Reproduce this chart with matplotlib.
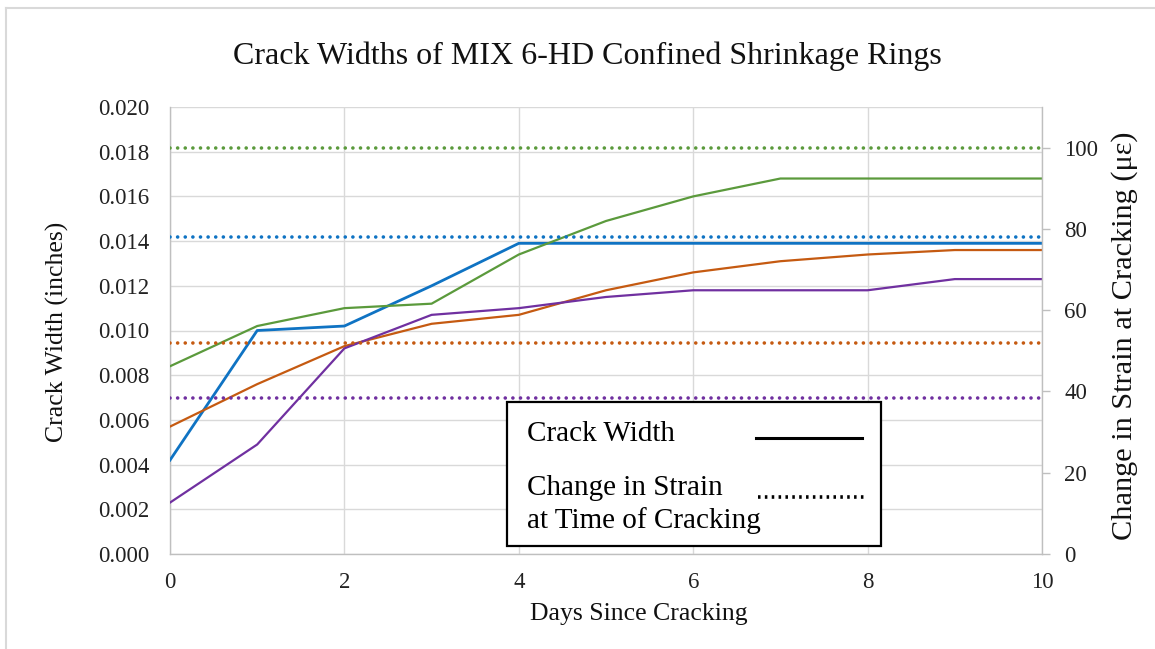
import matplotlib
matplotlib.use("Agg")
import matplotlib.pyplot as plt
from matplotlib.lines import Line2D
from matplotlib.patches import Rectangle

plt.rcParams['font.family'] = ['Liberation Serif', 'DejaVu Serif']

# ---- data ----
days = [0, 1, 2, 3, 4, 5, 6, 7, 8, 9, 10]
width_blue = [0.0042, 0.0100, 0.0102, 0.0120, 0.0139, 0.0139, 0.0139, 0.0139, 0.0139, 0.0139, 0.0139]
width_green = [0.0084, 0.0102, 0.0110, 0.0112, 0.0134, 0.0149, 0.0160, 0.0168, 0.0168, 0.0168, 0.0168]
width_orange = [0.0057, 0.0076, 0.0093, 0.0103, 0.0107, 0.0118, 0.0126, 0.0131, 0.0134, 0.0136, 0.0136]
width_purple = [0.0023, 0.0049, 0.0092, 0.0107, 0.0110, 0.0115, 0.0118, 0.0118, 0.0118, 0.0123, 0.0123]
strain_values = [100, 78, 52, 38.5]  # green, blue, orange, purple
colors = ['#5B9A3C', '#0F73C3', '#C55A11', '#7030A0']
x_ticks = [0, 2, 4, 6, 8, 10]
y_ticks = [0.000, 0.002, 0.004, 0.006, 0.008, 0.010, 0.012, 0.014, 0.016, 0.018, 0.020]
y2_ticks = [0, 20, 40, 60, 80, 100]

W, H = 1155, 649
fig = plt.figure(figsize=(W / 100, H / 100), dpi=100)
ax = fig.add_axes([170 / W, 1 - 554 / H, (1042 - 170) / W, (554 - 107) / H])
ax2 = ax.twinx()

grid_c = '#D9D9D9'
# primary series
series = [width_green, width_blue, width_orange, width_purple]
lws = [1.6, 2.0, 1.6, 1.6]
order = [1, 0, 2, 3]
for i in order:
    ax.plot(days, series[i], color=colors[i], lw=lws[i], zorder=3, solid_joinstyle='round')

ax.set_xlim(0, 10)
ax.set_ylim(0, 0.020)
ax.set_xticks(x_ticks)
ax.set_yticks(y_ticks)
ax.set_yticklabels([f"{v:.3f}" for v in y_ticks])
ax.grid(True, color=grid_c, lw=1.0, zorder=0)
ax.set_axisbelow(True)
ax.tick_params(axis='both', length=0, labelsize=16.5, colors='#222222')
ax.tick_params(axis='x', pad=13)
ax.tick_params(axis='y', pad=15)
for s in ['top', 'right']:
    ax.spines[s].set_visible(False)
for s in ['left', 'bottom']:
    ax.spines[s].set_color('#BFBFBF')
    ax.spines[s].set_linewidth(1.0)

# secondary series (dotted)
for val, c in zip(strain_values, colors):
    ax2.plot([days[0], days[-1]], [val, val], color=c, lw=2.6,
             linestyle=(0, (0.01, 2.1)), dash_capstyle='round', zorder=4)
ax2.set_ylim(0, 110)
ax2.set_yticks(y2_ticks)
ax2.tick_params(axis='y', length=6, width=1, color='#BFBFBF', labelsize=16.5,
                labelcolor='#222222', pad=10)
for s in ['top', 'left', 'bottom']:
    ax2.spines[s].set_visible(False)
ax2.spines['right'].set_color('#BFBFBF')
ax2.spines['right'].set_linewidth(1.0)

# texts
fig.text(587 / W, 1 - 56 / H, "Crack Widths of MIX 6-HD Confined Shrinkage Rings",
         ha='center', va='center', fontsize=23, color='#111111')
fig.text(639 / W, 1 - 614 / H, "Days Since Cracking", ha='center', va='center',
         fontsize=18.5, color='#111111')
fig.text(57 / W, 1 - 332 / H, "Crack Width (inches)", ha='center', va='center',
         rotation=90, fontsize=18.5, color='#111111')
fig.text(1125 / W, 1 - 336 / H, "Change in Strain at Cracking (\u03bc\u03b5)", ha='center',
         va='center', rotation=90, fontsize=21.8, color='#111111')

# legend box (manual, figure coords)
def fx(p):
    return p / W

def fy(p):
    return 1 - p / H

fig.patches.append(Rectangle((fx(507), fy(546)), fx(881) - fx(507), fy(402) - fy(546),
                             transform=fig.transFigure, facecolor='white',
                             edgecolor='black', lw=1.6, zorder=10))
leg_fs = 21
fig.text(fx(527), fy(441), "Crack Width", ha='left', va='baseline', fontsize=leg_fs,
         color='black', zorder=11)
fig.text(fx(527), fy(495), "Change in Strain", ha='left', va='baseline', fontsize=leg_fs,
         color='black', zorder=11)
fig.text(fx(527), fy(528), "at Time of Cracking", ha='left', va='baseline', fontsize=leg_fs,
         color='black', zorder=11)
fig.lines.append(Line2D([fx(756), fx(862)], [fy(438), fy(438)], transform=fig.transFigure,
                        color='black', lw=2.2, zorder=11))
fig.lines.append(Line2D([fx(758), fx(864)], [fy(497), fy(497)], transform=fig.transFigure,
                        color='black', lw=2.6, linestyle=(0, (0.7, 1.2)),
                        dash_capstyle='butt', zorder=11))

# outer chart border (top and left visible)
fig.lines.append(Line2D([fx(6), fx(6)], [fy(8), 0], transform=fig.transFigure,
                        color='#D9D9D9', lw=1.5))
fig.lines.append(Line2D([fx(6), 1], [fy(8), fy(8)], transform=fig.transFigure,
                        color='#D9D9D9', lw=1.5))

fig.savefig("out.png", dpi=100)
